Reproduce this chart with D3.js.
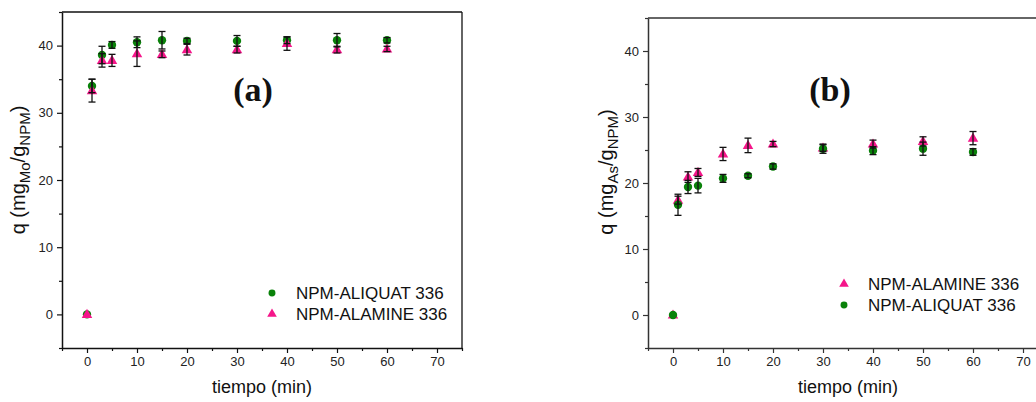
<!DOCTYPE html>
<html><head><meta charset="utf-8">
<script src="https://cdn.jsdelivr.net/npm/d3@7"></script>
<style>body{margin:0;background:#fff}svg{display:block}</style>
</head><body>
<script>
const times = [0, 1, 3, 5, 10, 15, 20, 30, 40, 50, 60];
// Panel (a): Mo
const moAliquat    = [0, 34.0, 38.6, 40.1, 40.5, 40.8, 40.7, 40.7, 40.8, 40.8, 40.8];
const moAliquatErr = [0, 1.0, 1.3, 0.5, 0.8, 1.3, 0.4, 0.8, 0.5, 1.0, 0.4];
const moAlamine    = [0, 33.3, 37.8, 37.8, 38.8, 38.7, 39.4, 39.4, 40.3, 39.4, 39.5];
const moAlamineErr = [0, 1.7, 1.0, 0.9, 1.9, 0.5, 0.8, 0.5, 1.0, 0.5, 0.4];
// Panel (b): As
const asAlamine    = [0, 17.4, 20.9, 21.6, 24.4, 25.7, 25.9, 25.3, 25.9, 26.3, 26.8];
const asAlamineErr = [0, 0.6, 0.8, 0.6, 1.0, 1.1, 0.4, 0.5, 0.6, 0.7, 1.0];
const asAliquat    = [0, 16.7, 19.4, 19.6, 20.7, 21.1, 22.5, 25.2, 24.9, 25.2, 24.7];
const asAliquatErr = [0, 1.6, 1.0, 1.1, 0.6, 0.3, 0.4, 0.7, 0.6, 1.0, 0.5];

const xTicks = [0, 10, 20, 30, 40, 50, 60, 70];
const xMinor = [-5, 5, 15, 25, 35, 45, 55, 65, 75];
const yTicks = [0, 10, 20, 30, 40];
const yMinor = [-5, 5, 15, 25, 35, 45];
const xLabel = "tiempo (min)";
const labelA = "(a)", labelB = "(b)";
const nameAliquat = "NPM-ALIQUAT 336", nameAlamine = "NPM-ALAMINE 336";

const GREEN = "#0a820a", PINK = "#f5168a";
const W = 1036, H = 402;
const svg = d3.select("body").append("svg").attr("width", W).attr("height", H)
  .style("font-family", "'Liberation Sans', Arial, sans-serif");

function panel(cfg) {
  const x = d3.scaleLinear().domain([-5, 75]).range([cfg.x0, cfg.x1]);
  const y = d3.scaleLinear().domain([-5, 45]).range([cfg.y1, cfg.y0]);
  const g = svg.append("g");
  const axCol = cfg.axCol;

  // frame
  g.append("line").attr("x1", x(-5)).attr("x2", x(75)).attr("y1", y(45)).attr("y2", y(45))
    .attr("stroke", axCol).attr("stroke-width", 1.3);
  g.append("line").attr("x1", x(75)).attr("x2", x(75)).attr("y1", y(45)).attr("y2", y(-5))
    .attr("stroke", axCol).attr("stroke-width", 1.3);

  // bottom axis
  g.append("g").attr("transform", `translate(0,${y(-5)})`)
    .call(d3.axisBottom(x).tickValues(xTicks).tickSize(5).tickSizeOuter(0).tickPadding(4).tickFormat(d3.format("d")));
  g.append("g").attr("transform", `translate(0,${y(-5)})`)
    .call(d3.axisBottom(x).tickValues(xMinor).tickSize(3).tickSizeOuter(0).tickFormat(""))
    .select(".domain").remove();
  // left axis
  g.append("g").attr("transform", `translate(${x(-5)},0)`)
    .call(d3.axisLeft(y).tickValues(yTicks).tickSize(5).tickSizeOuter(0).tickPadding(4).tickFormat(d3.format("d")));
  g.append("g").attr("transform", `translate(${x(-5)},0)`)
    .call(d3.axisLeft(y).tickValues(yMinor).tickSize(3).tickSizeOuter(0).tickFormat(""))
    .select(".domain").remove();
  g.selectAll(".domain").attr("stroke", axCol).attr("stroke-width", 1.5);
  g.selectAll(".tick line").attr("stroke", axCol).attr("stroke-width", 1.2);
  g.selectAll(".tick text").attr("font-size", 13).attr("fill", "#222")
    .attr("font-family", "'Liberation Sans', Arial, sans-serif");

  // axis titles
  g.append("text").attr("x", (cfg.x0 + cfg.x1) / 2).attr("y", 393)
    .attr("text-anchor", "middle").attr("font-size", 18).attr("fill", "#111").text(xLabel);
  const yt = g.append("text").attr("transform", `translate(${cfg.ytx},${cfg.ytc}) rotate(-90)`)
    .attr("text-anchor", "middle").attr("font-size", 20).attr("fill", "#111");
  yt.append("tspan").text("q (mg");
  yt.append("tspan").attr("font-size", 15).attr("dy", 5).text(cfg.sub);
  yt.append("tspan").attr("dy", -5).text("/g");
  yt.append("tspan").attr("font-size", 15).attr("dy", 5).text("NPM");
  yt.append("tspan").attr("dy", -5).text(")");

  // panel label
  g.append("text").attr("x", cfg.lx).attr("y", cfg.ly).attr("text-anchor", "middle")
    .attr("font-family", "'Liberation Serif', 'Times New Roman', serif").attr("font-weight", "bold")
    .attr("font-size", 34).attr("fill", "#111").text(cfg.label);

  const circ = d3.symbol().type(d3.symbolCircle).size(55);
  const tri = d3.symbol().type(d3.symbolTriangle).size(48);

  // series in draw order
  const errs = [];
  cfg.series.forEach(s => {
    const pts = times.map((t, i) => ({ t, v: s.vals[i], e: s.errs[i] }));
    g.append("g").selectAll("path").data(pts).join("path")
      .attr("d", s.shape === "circle" ? circ : tri)
      .attr("transform", d => `translate(${x(d.t)},${y(d.v) + (s.shape === "tri" ? 0.5 : 0)})`)
      .attr("fill", s.color);
    pts.filter(d => d.e > 0).forEach(d => errs.push(d));
  });
  const eg = g.append("g").attr("stroke", "#111").attr("stroke-width", 1.3);
  errs.forEach(d => {
    const cx = x(d.t), ya1 = y(d.v + d.e), yb = y(d.v - d.e);
    eg.append("line").attr("x1", cx).attr("x2", cx).attr("y1", ya1).attr("y2", yb);
    eg.append("line").attr("x1", cx - 3.5).attr("x2", cx + 3.5).attr("y1", ya1).attr("y2", ya1);
    eg.append("line").attr("x1", cx - 3.5).attr("x2", cx + 3.5).attr("y1", yb).attr("y2", yb);
  });

  // legend
  cfg.legend.forEach((s, i) => {
    const ly = cfg.legY + i * 21;
    g.append("path").attr("d", s.shape === "circle" ? d3.symbol().type(d3.symbolCircle).size(38) : d3.symbol().type(d3.symbolTriangle).size(40))
      .attr("transform", `translate(${cfg.legX},${ly})`).attr("fill", s.color);
    g.append("text").attr("x", cfg.legX + 24).attr("y", ly).attr("dy", "0.35em")
      .attr("font-size", 17).attr("fill", "#111").text(s.name);
  });
}

const sAliqA = { vals: moAliquat, errs: moAliquatErr, shape: "circle", color: GREEN, name: nameAliquat };
const sAlamA = { vals: moAlamine, errs: moAlamineErr, shape: "tri", color: PINK, name: nameAlamine };
const sAlamB = { vals: asAlamine, errs: asAlamineErr, shape: "tri", color: PINK, name: nameAlamine };
const sAliqB = { vals: asAliquat, errs: asAliquatErr, shape: "circle", color: GREEN, name: nameAliquat };

panel({ x0: 62, x1: 462, y0: 12, y1: 348, axCol: "#111", ytx: 25, ytc: 170, sub: "Mo",
  label: labelA, lx: 253, ly: 101, series: [sAliqA, sAlamA], legend: [sAliqA, sAlamA], legX: 272, legY: 293 });
panel({ x0: 648, x1: 1048, y0: 18, y1: 348, axCol: "#333", ytx: 613, ytc: 172, sub: "As",
  label: labelB, lx: 830, ly: 101, series: [sAlamB, sAliqB], legend: [sAlamB, sAliqB], legX: 844, legY: 284 });
</script>
</body></html>
